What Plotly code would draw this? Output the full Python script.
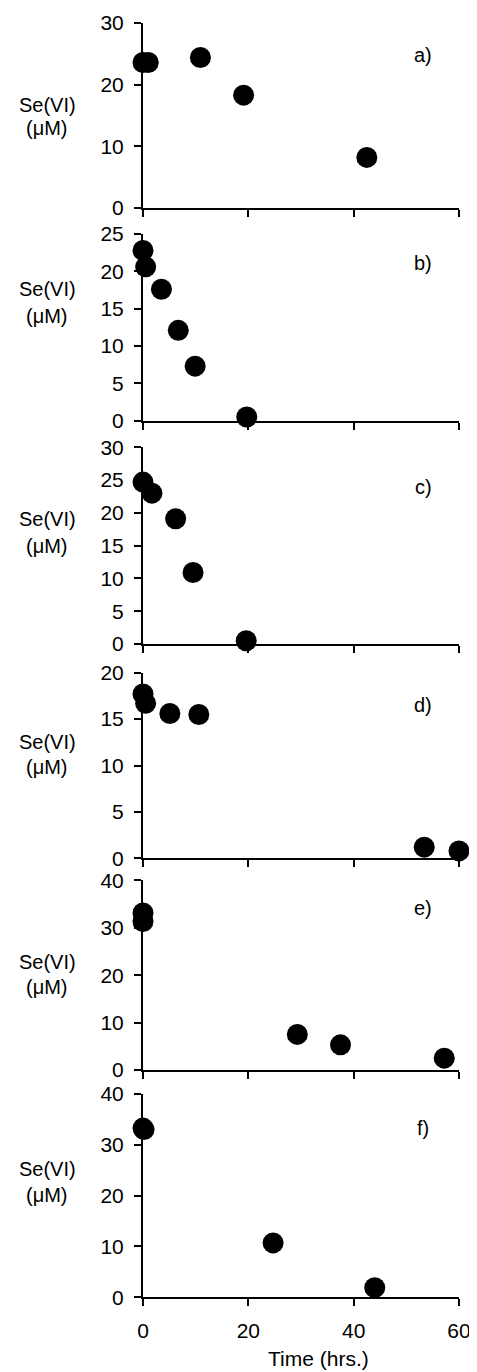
import plotly.graph_objects as go

# ---- data ----
panel_labels = ["a)", "b)", "c)", "d)", "e)", "f)"]

time_a = [0, 1, 10.9, 19.1, 42.5]
se_a = [23.6, 23.6, 24.4, 18.3, 8.2]

time_b = [0, 0.5, 3.5, 6.7, 9.9, 19.7]
se_b = [22.8, 20.6, 17.6, 12.1, 7.3, 0.5]

time_c = [0, 1.7, 6.2, 9.5, 19.6]
se_c = [24.7, 23.0, 19.1, 10.9, 0.5]

time_d = [0, 0.5, 5.1, 10.6, 53.4, 60.0]
se_d = [17.7, 16.7, 15.6, 15.5, 1.2, 0.8]

time_e = [0, 0, 29.3, 37.5, 57.2]
se_e = [33.1, 31.3, 7.5, 5.3, 2.5]

time_f = [0, 0.2, 24.7, 44.0]
se_f = [33.3, 33.0, 10.7, 1.9]

y_max = [30, 25, 30, 20, 40, 40]
y_dtick = [10, 5, 5, 5, 10, 10]
x_ticks = [0, 20, 40, 60]
y_title_lines = ["Se(VI)", "(\u03bcM)"]
x_title = "Time (hrs.)"

times = [time_a, time_b, time_c, time_d, time_e, time_f]
values = [se_a, se_b, se_c, se_d, se_e, se_f]

# ---- layout geometry (page pixels; the page body adds an 8px margin) ----
OFF = 8
W, H = 477 - OFF, 1372 - OFF
L, R = 143 - OFF, 459 - OFF
panel_px = [(23, 208), (234, 420.7), (447.3, 644), (672.7, 858.3), (880.3, 1070), (1094, 1297.3)]
ylab_px = [(105, 128), (289, 316), (519, 546), (741.5, 767), (961.5, 987), (1169, 1195)]
plabel_py = [55, 263.3, 486.7, 705, 908.3, 1128.3]

FONT = "Liberation Sans, Arial, sans-serif"


def px_x(p):
    return (p - OFF - L) / (R - L)


def px_y(p):
    return 1 - (p - OFF) / H


fig = go.Figure()
layout = dict(
    template="none",
    width=W, height=H,
    margin=dict(l=L, r=W - R, t=0, b=0, pad=0),
    paper_bgcolor="white", plot_bgcolor="white",
    showlegend=False,
    font=dict(family=FONT, size=20, color="black"),
)
annotations = []

for i in range(6):
    n = "" if i == 0 else str(i + 1)
    fig.add_trace(go.Scatter(
        x=times[i], y=values[i], mode="markers",
        marker=dict(size=21, color="black", line=dict(width=0)),
        xaxis="x" + n, yaxis="y" + n, cliponaxis=False,
    ))
    top, bot = panel_px[i]
    last = i == 5
    layout["xaxis" + n] = dict(
        domain=[0, 1], anchor="y" + n, range=[0, 60],
        tickvals=x_ticks, showticklabels=last, automargin=False,
        ticks="outside", ticklen=7, tickwidth=2, tickcolor="black",
        showline=True, linewidth=2, linecolor="black",
        showgrid=False, zeroline=False,
        tickfont=dict(size=21), ticklabelstandoff=6,
    )
    layout["yaxis" + n] = dict(
        domain=[px_y(bot), px_y(top)], anchor="x" + n,
        range=[0, y_max[i]], dtick=y_dtick[i], tick0=0, automargin=False,
        ticks="outside", ticklen=7, tickwidth=2, tickcolor="black",
        showline=True, linewidth=2, linecolor="black",
        showgrid=False, zeroline=False,
        tickfont=dict(size=21), ticklabelstandoff=6,
    )
    for line, py in zip(y_title_lines, ylab_px[i]):
        annotations.append(dict(
            text=line, xref="paper", yref="paper",
            x=px_x(47), y=px_y(py), xanchor="center", yanchor="middle",
            showarrow=False, font=dict(size=20),
        ))
    annotations.append(dict(
        text=panel_labels[i], xref="paper", yref="paper",
        x=px_x(423), y=px_y(plabel_py[i]), xanchor="center", yanchor="middle",
        showarrow=False, font=dict(size=20),
    ))

annotations.append(dict(
    text=x_title, xref="paper", yref="paper",
    x=px_x(318), y=px_y(1358), xanchor="center", yanchor="middle",
    showarrow=False, font=dict(size=21),
))
layout["annotations"] = annotations
fig.update_layout(**layout)
fig.write_html("out.html")
